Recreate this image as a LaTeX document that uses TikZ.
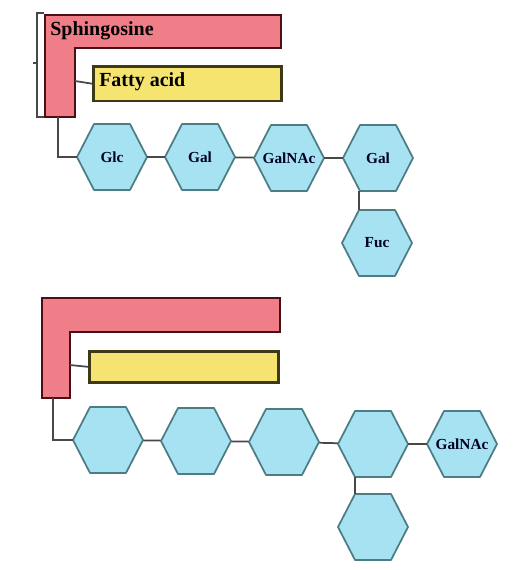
\documentclass[tikz,border=0pt]{standalone}
\usepackage{fontspec}
\setmainfont{Liberation Serif}
\usetikzlibrary{calc}
\definecolor{pinkfill}{HTML}{EF7E88}
\definecolor{pinkline}{HTML}{4A1018}
\definecolor{yelfill}{HTML}{F5E470}
\definecolor{yelline}{HTML}{3E3A18}
\definecolor{hexfill}{HTML}{A6E2F2}
\definecolor{hexline}{HTML}{4C7C84}
\definecolor{conn}{HTML}{484848}
\tikzset{
  lipid/.style={fill=pinkfill,draw=pinkline,line width=2pt,line join=miter},
  fatty/.style={fill=yelfill,draw=yelline,line width=2pt},
  boxtext/.style={inner sep=0pt,anchor=west,font=\fontsize{15}{15}\selectfont\bfseries},
  hexshape/.style={draw=hexline,fill=hexfill,line width=1.3pt,line join=round},
  hexlabel/.style={rectangle,minimum width=52.5pt,minimum height=49.5pt,inner sep=0pt,
    text=black!85!blue,font=\fontsize{11.5}{11.5}\selectfont\bfseries},
  link/.style={draw=conn,line width=1.3pt},
  bracket/.style={draw=conn,line width=1pt}
}
\newcommand\hexat[4]{%
  \path[hexshape] (#2-35,#3) -- (#2-18,#3-33) -- (#2+18,#3-33) -- (#2+35,#3)
     -- (#2+18,#3+33) -- (#2-18,#3+33) -- cycle;
  \node[hexlabel] (#1) at (#2,#3) {#4};
}
\begin{document}
\begin{tikzpicture}[x=0.75pt,y=-0.75pt]
\useasboundingbox[fill=white] (0,0) rectangle (514,570);
% ---------- top diagram ----------
\path[lipid] (45,15) -- (281,15) -- (281,48) -- (75,48) -- (75,117) -- (45,117) -- cycle;
\coordinate (s1leg) at (58,117);
\coordinate (s1side) at (75,81);
\node[boxtext] (sph1) at (50,31) {Sphingosine};
\draw[bracket] (44,13) -- (37,13) -- (37,117) -- (44,117);
\draw[bracket] (37,63) -- (33,63);
\node[fatty,minimum width=141pt,minimum height=26pt,inner sep=0pt,anchor=north west] (fa1) at (92,65) {};
\node[boxtext] (fat1) at (99,82) {Fatty acid};
\draw[link] (s1side) -- (fa1.west);
\hexat{glc1}{112}{157}{Glc}
\hexat{gal1}{200}{157}{Gal}
\hexat{galnac1}{289}{158}{GalNAc}
\hexat{galb1}{378}{158}{Gal}
\hexat{fuc1}{377}{243}{Fuc}
\draw[link] (s1leg) |- (glc1.west);
\draw[link] (glc1) -- (gal1);
\draw[link] (gal1) -- (galnac1);
\draw[link] (galnac1) -- (galb1);
\draw[link] ($(galb1.south)+(-19,0)$) -- ($(fuc1.north)+(-18,0)$);
% ---------- bottom diagram ----------
\path[lipid] (42,298) -- (280,298) -- (280,332) -- (70,332) -- (70,398) -- (42,398) -- cycle;
\coordinate (s2leg) at (53,398);
\coordinate (s2side) at (70,365);
\node[fatty,minimum width=141.75pt,minimum height=23.25pt,inner sep=0pt,anchor=north west] (fa2) at (88,350) {};
\draw[link] (s2side) -- (fa2.west);
\hexat{h1}{108}{440}{}
\hexat{h2}{196}{441}{}
\hexat{h3}{284}{442}{}
\hexat{h4}{373}{444}{}
\hexat{h5}{462}{444}{GalNAc}
\hexat{h6}{373}{527}{}
\draw[link] (s2leg) |- (h1.west);
\draw[link] (h1) -- (h2);
\draw[link] (h2) -- (h3);
\draw[link] (h3) -- (h4);
\draw[link] (h4) -- (h5);
\draw[link] ($(h4.south)+(-18,0)$) -- ($(h6.north)+(-18,0)$);
\end{tikzpicture}
\end{document}
